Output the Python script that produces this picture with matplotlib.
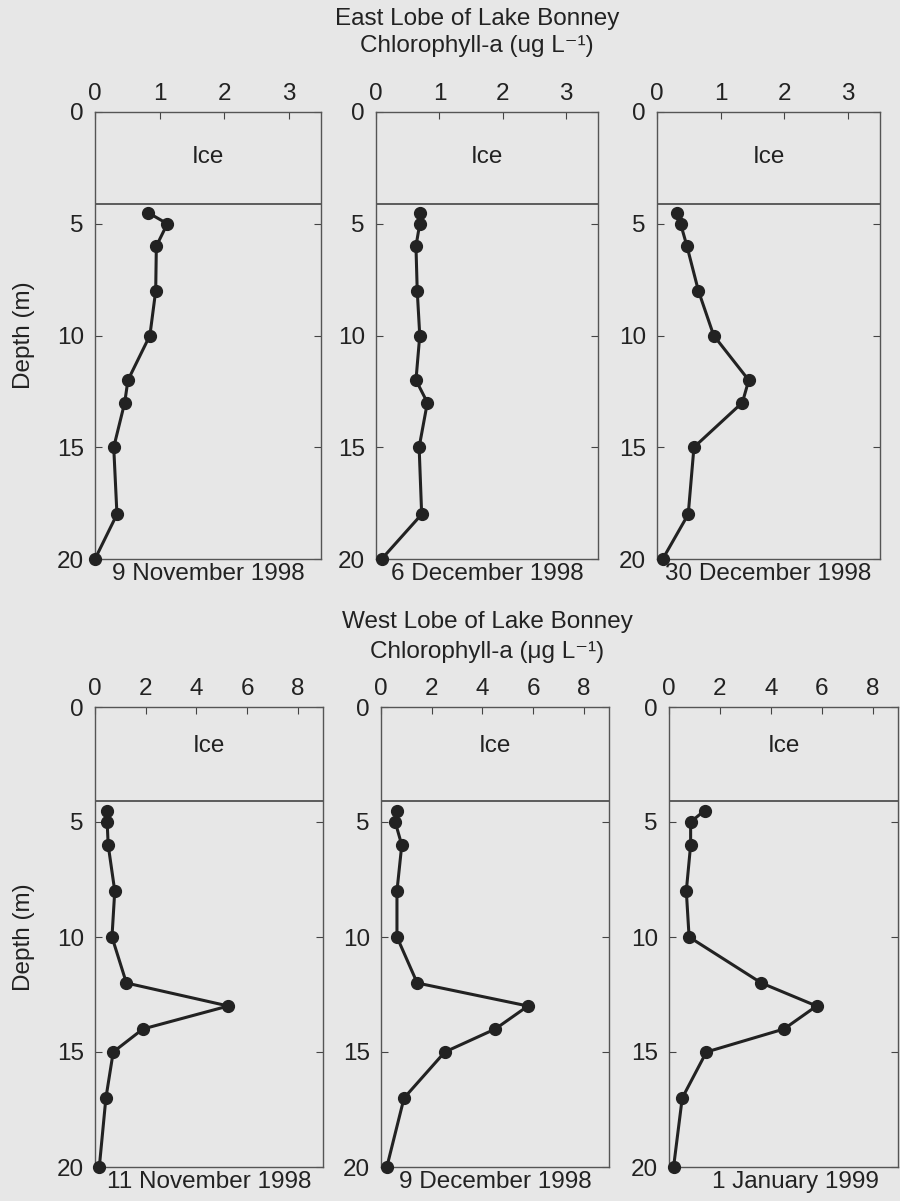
import matplotlib
matplotlib.use('Agg')
import matplotlib.pyplot as plt

plt.rcParams['font.family'] = ['Liberation Sans', 'DejaVu Sans']

# East lobe (top row)
east_depth = [4.5, 5, 6, 8, 10, 12, 13, 15, 18, 20]
east_9nov = [0.82, 1.12, 0.95, 0.94, 0.85, 0.51, 0.46, 0.29, 0.34, 0.0]
east_6dec = [0.69, 0.69, 0.63, 0.65, 0.69, 0.63, 0.81, 0.68, 0.72, 0.09]
east_30dec = [0.32, 0.37, 0.47, 0.65, 0.89, 1.44, 1.34, 0.58, 0.49, 0.09]
east_dates = ['9 November 1998', '6 December 1998', '30 December 1998']

# West lobe (bottom row)
west_depth = [4.5, 5, 6, 8, 10, 12, 13, 14, 15, 17, 20]
west_11nov = [0.46, 0.48, 0.52, 0.78, 0.67, 1.24, 5.26, 1.89, 0.72, 0.43, 0.17]
west_9dec = [0.63, 0.56, 0.82, 0.63, 0.63, 1.43, 5.80, 4.51, 2.52, 0.91, 0.23]
west_1jan = [1.40, 0.85, 0.85, 0.68, 0.79, 3.63, 5.80, 4.52, 1.47, 0.52, 0.18]
west_dates = ['11 November 1998', '9 December 1998', '1 January 1999']

ice_depth = 4.1
bg = '#e7e7e7'
ink = '#222222'
fs = 17.5

W, H = 900, 1201
fig = plt.figure(figsize=(9, 12.01), dpi=100, facecolor=bg)

def box(x0, x1, y0, y1):
    return [x0 / W, 1 - y1 / H, (x1 - x0) / W, (y1 - y0) / H]

top_boxes = [box(95, 321, 112, 559), box(376, 598, 112, 559), box(657, 880, 112, 559)]
bot_boxes = [box(95, 323, 707, 1167), box(381, 609, 707, 1167), box(669, 898, 707, 1167)]

def panel(rect, depth, vals, xmax, xticks, date, ice_y, ylabel, date_x=0.5):
    ax = fig.add_axes(rect, facecolor=bg)
    ax.plot(vals, depth, '-o', color=ink, lw=2.2, ms=8.5, clip_on=False, zorder=3)
    ax.axhline(ice_depth, color='#444444', lw=1.2)
    ax.text(xmax * 0.5, ice_y, 'Ice', ha='center', va='center', fontsize=fs, color=ink)
    ax.set_xlim(0, xmax)
    ax.set_ylim(20, 0)
    ax.set_xticks(xticks)
    ax.set_yticks([0, 5, 10, 15, 20])
    ax.xaxis.tick_top()
    ax.tick_params(axis='x', direction='in', length=5, width=0.8, colors='#444444',
                   labelcolor=ink, labelsize=fs, pad=5)
    ax.tick_params(axis='y', direction='in', length=5, width=0.8, colors='#444444',
                   labelcolor=ink, labelsize=fs, pad=8, left=True, right=True)
    for s in ax.spines.values():
        s.set_color('#555555')
        s.set_linewidth(1.0)
    ax.text(date_x, -0.008, date, transform=ax.transAxes, ha='center', va='top',
            fontsize=fs, color=ink)
    if ylabel:
        ax.set_ylabel('Depth (m)', fontsize=fs, color=ink, labelpad=16)
    return ax

east_vals = [east_9nov, east_6dec, east_30dec]
for i in range(3):
    panel(top_boxes[i], east_depth, east_vals[i], 3.5, [0, 1, 2, 3], east_dates[i], 2.0, i == 0)

west_vals = [west_11nov, west_9dec, west_1jan]
west_date_x = [0.5, 0.5, 0.55]
for i in range(3):
    panel(bot_boxes[i], west_depth, west_vals[i], 9, [0, 2, 4, 6, 8], west_dates[i], 1.7, i == 0,
          west_date_x[i])

fig.text(477 / W, 1 - 19 / H, 'East Lobe of Lake Bonney', ha='center', va='center',
         fontsize=fs, color=ink)
fig.text(477 / W, 1 - 46 / H, 'Chlorophyll-a (ug L\u207b\u00b9)', ha='center', va='center',
         fontsize=fs, color=ink)
fig.text(487 / W, 1 - 622 / H, 'West Lobe of Lake Bonney', ha='center', va='center',
         fontsize=fs, color=ink)
fig.text(487 / W, 1 - 652 / H, 'Chlorophyll-a (\u03bcg L\u207b\u00b9)', ha='center', va='center',
         fontsize=fs, color=ink)

fig.savefig('out.png', dpi=100, facecolor=bg)
